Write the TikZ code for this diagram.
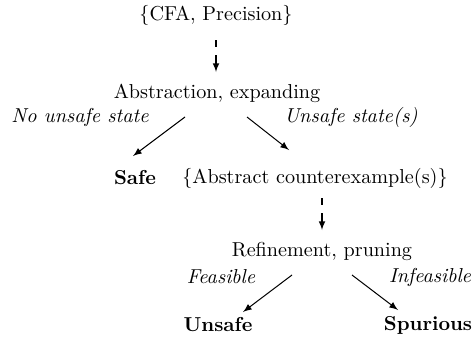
\documentclass[tikz,border=0pt]{standalone}
\usetikzlibrary{arrows}
\begin{document}
\begin{tikzpicture}[x=0.496pt,y=-0.496pt,
  every node/.style={inner sep=0pt, font=\normalsize},
  lbl/.style={font=\itshape},
  res/.style={font=\bfseries},
  flow/.style={-latex, line width=0.5pt},
  dflow/.style={flow, dash pattern=on 3.5pt off 4pt on 30pt}]
\useasboundingbox (0,0) rectangle (472,347);
% stages of the loop
\node (in)   at (216,15)  {\{CFA, Precision\}};
\node (abs)  at (217,93)  {Abstraction, expanding};
\node (safe) at (135,178) [res] {Safe};
\node (cex)  at (315,178) {\{Abstract counterexample(s)\}};
\node (ref)  at (322,251) {Refinement, pruning};
\node (uns)  at (218,325) [res] {Unsafe};
\node (spu)  at (428,325) [res] {Spurious};
% edge labels
\node (l1) at (80,117)  [lbl] {No unsafe state};
\node (l2) at (351,117) [lbl] {Unsafe state(s)};
\node (l3) at (221,277) [lbl] {Feasible};
\node (l4) at (430,277) [lbl] {Infeasible};
% connectors
\coordinate (a1) at (216,40);  \coordinate (a2) at (216,72);
\coordinate (b1) at (322,198); \coordinate (b2) at (322,230);
\draw[dflow] (a1) -- (a2);
\draw[dflow] (b1) -- (b2);
\coordinate (c1) at (185,117); \coordinate (c2) at (133,156);
\coordinate (d1) at (247,117); \coordinate (d2) at (289,150);
\coordinate (e1) at (292,275); \coordinate (e2) at (243,312);
\coordinate (f1) at (352,275); \coordinate (f2) at (398,310);
\draw[flow] (c1) -- (c2);
\draw[flow] (d1) -- (d2);
\draw[flow] (e1) -- (e2);
\draw[flow] (f1) -- (f2);
\end{tikzpicture}
\end{document}
